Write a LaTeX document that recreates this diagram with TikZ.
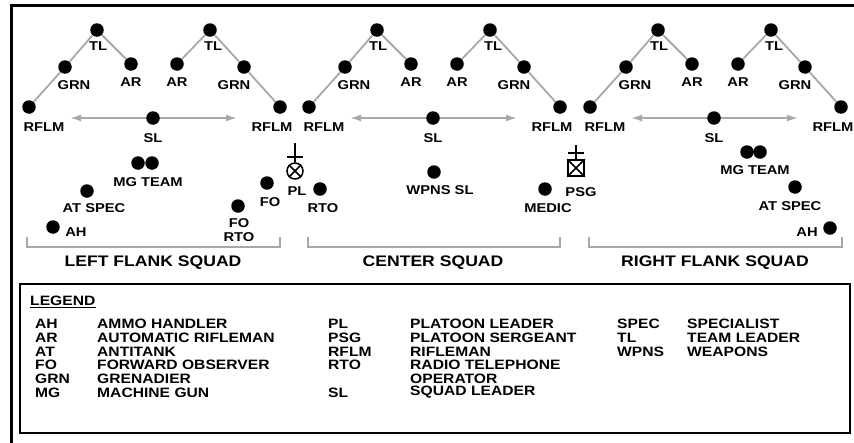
\documentclass[tikz,border=0pt]{standalone}
\usepackage{fontspec}
\setmainfont{Liberation Sans}[FakeStretch=1.15]
\usetikzlibrary{arrows.meta}
\definecolor{lgray}{HTML}{A8A8A8}
\tikzset{
  dot/.style={circle, fill=black, draw=none, inner sep=0pt, minimum size=13.5pt},
  lbl/.style={font=\bfseries\fontsize{12.8}{13.5}\selectfont, inner sep=0pt, align=center},
  sqd/.style={font=\bfseries\fontsize{15.3}{16}\selectfont, inner sep=0pt},
  leg/.style={font=\bfseries\fontsize{13.6}{14}\selectfont, inner sep=0pt, anchor=west},
  link/.style={draw=lgray, line width=1.8pt},
  sarrow/.style={draw=lgray, line width=1.8pt, {Latex[length=11pt,width=7pt]}-{Latex[length=11pt,width=7pt]}},
  bracket/.style={draw=lgray, line width=2.5pt},
  symline/.style={draw=black, line width=1.5pt},
}
\begin{document}
\begin{tikzpicture}[x=1pt,y=-1pt]
\path[use as bounding box, clip] (0,0) rectangle (854,442);
\fill[white] (0,0) rectangle (854,442);
% outer frame (cut off at right and bottom)
\draw[line width=3pt] (11,5.5) rectangle (900,480);

% squads
\foreach \o/\s in {0/L,280/C,561/R}{
  \node[dot] (tla\s) at (97+\o,30) {};
  \node[dot] (grna\s) at (65+\o,67) {};
  \node[dot] (ara\s) at (131+\o,64) {};
  \node[dot] (rfa\s) at (29+\o,107) {};
  \node[dot] (tlb\s) at (210+\o,30) {};
  \node[dot] (arb\s) at (177+\o,64) {};
  \node[dot] (grnb\s) at (244+\o,67) {};
  \node[dot] (rfb\s) at (280+\o,107) {};
  \coordinate (al\s) at (70+\o,118);
  \coordinate (ar\s) at (237+\o,118);
  \draw[sarrow] (al\s) -- (ar\s);
  \node[dot] (sl\s) at (153+\o,118) {};
  \draw[link] (tla\s) -- (grna\s) -- (rfa\s);
  \draw[link] (tla\s) -- (ara\s);
  \draw[link] (tlb\s) -- (arb\s);
  \draw[link] (tlb\s) -- (grnb\s) -- (rfb\s);
  \node[lbl] (tlaL\s) at (98+\o,46) {TL};
  \node[lbl] (grnaL\s) at (74+\o,85) {GRN};
  \node[lbl] (araL\s) at (131+\o,82) {AR};
  \node[lbl] (rfaL\s) at (44+\o,127) {RFLM};
  \node[lbl] (tlbL\s) at (213+\o,46) {TL};
  \node[lbl] (arbL\s) at (177+\o,82) {AR};
  \node[lbl] (grnbL\s) at (234+\o,85) {GRN};
  \node[lbl] (rfbL\s) at (272+\o,127) {RFLM};
  \node[lbl] (slL\s) at (153+\o,138) {SL};
}

% left flank squad
\node[dot] (mgl1) at (138,163) {};
\node[dot] (mgl2) at (152,163) {};
\node[lbl] (mglL) at (148,182) {MG TEAM};
\node[dot] (atl) at (87,191) {};
\node[lbl] (atlL) at (94,208) {AT SPEC};
\node[dot] (ahl) at (53,227) {};
\node[lbl] (ahlL) at (76,232) {AH};
\node[dot] (fo) at (267,183) {};
\node[lbl] (foL) at (270,202) {FO};
\node[dot] (forto) at (238,206) {};
\node[lbl] (fortoL) at (239,230) {FO\\RTO};

% center
\node[circle, symline, inner sep=0pt, minimum size=16pt] (pl) at (295,171) {};
\draw[symline] (pl.45) -- (pl.225);
\draw[symline] (pl.135) -- (pl.315);
\coordinate (pltop) at (295,143);
\coordinate (plh1) at (287,157);
\coordinate (plh2) at (303,157);
\draw[symline] (pl.north) -- (pltop);
\draw[symline] (plh1) -- (plh2);
\node[lbl] (plL) at (297,191) {PL};
\node[dot] (rto) at (320,189) {};
\node[lbl] (rtoL) at (323,208) {RTO};
\node[dot] (wsl) at (434,172) {};
\node[lbl] (wslL) at (440,190) {WPNS SL};
\node[dot] (medic) at (545,189) {};
\node[lbl] (medicL) at (548,208) {MEDIC};
\node[rectangle, symline, inner sep=0pt, minimum size=16pt] (psg) at (576,168) {};
\draw[symline] (psg.north west) -- (psg.south east);
\draw[symline] (psg.north east) -- (psg.south west);
\coordinate (psgtop) at (576,145);
\coordinate (psgh1) at (568,153);
\coordinate (psgh2) at (584,153);
\draw[symline] (psg.north) -- (psgtop);
\draw[symline] (psgh1) -- (psgh2);
\node[lbl] (psgL) at (581,192) {PSG};

% right flank squad
\node[dot] (mgr1) at (747,152) {};
\node[dot] (mgr2) at (760,152) {};
\node[lbl] (mgrL) at (755,170) {MG TEAM};
\node[dot] (atr) at (795,187) {};
\node[lbl] (atrL) at (790,206) {AT SPEC};
\node[dot] (ahr) at (830,228) {};
\node[lbl] (ahrL) at (807,232) {AH};

% brackets
\foreach \s/\a/\b in {L/27/280, C/308/560, R/589/842}{
  \coordinate (b1\s) at (\a,237);
  \coordinate (b2\s) at (\a,247);
  \coordinate (b3\s) at (\b,247);
  \coordinate (b4\s) at (\b,237);
  \draw[bracket] (b1\s) -- (b2\s) -- (b3\s) -- (b4\s);
}
\node[sqd] (sqL) at (153,263) {LEFT FLANK SQUAD};
\node[sqd] (sqC) at (433,263) {CENTER SQUAD};
\node[sqd] (sqR) at (715,263) {RIGHT FLANK SQUAD};

% legend
\draw[line width=2.5pt] (20,284) rectangle (850,433);
\node[leg] (legend) at (30,301) {LEGEND};
\draw[line width=1.3pt] ([yshift=-1.5pt]legend.south west) -- ([yshift=-1.5pt]legend.south east);
\foreach \y/\a/\d [count=\i] in {324/AH/AMMO HANDLER, 338/AR/AUTOMATIC RIFLEMAN, 351.5/AT/ANTITANK, 365/FO/FORWARD OBSERVER, 379/GRN/GRENADIER, 392.5/MG/MACHINE GUN}{
  \node[leg] (la\i) at (35,\y) {\a};
  \node[leg] (ld\i) at (97,\y) {\d};
}
\foreach \y/\a/\d [count=\i] in {324/PL/PLATOON LEADER, 338/PSG/PLATOON SERGEANT, 351.5/RFLM/RIFLEMAN, 365/RTO/RADIO TELEPHONE, 392.5/SL/SQUAD LEADER}{
  \node[leg] (lb\i) at (328,\y) {\a};
  \node[leg] (le\i) at (410,\y) {\d};
}
\node[leg] (lop) at (410,379) {OPERATOR};
\foreach \y/\a/\d [count=\i] in {324/SPEC/SPECIALIST, 338/TL/TEAM LEADER, 351.5/WPNS/WEAPONS}{
  \node[leg] (lc\i) at (617,\y) {\a};
  \node[leg] (lf\i) at (687,\y) {\d};
}
\end{tikzpicture}
\end{document}
